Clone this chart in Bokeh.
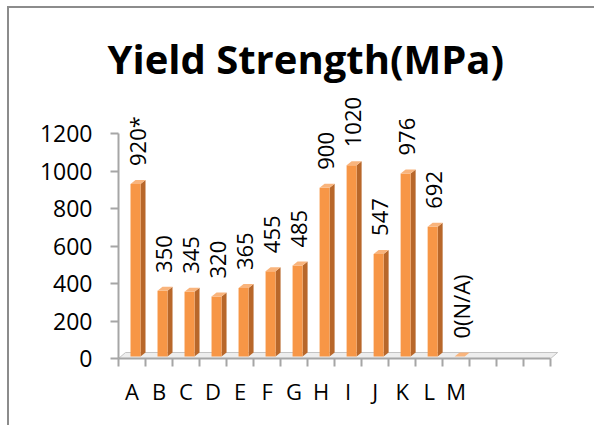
import numpy as np
from bokeh.plotting import figure
from bokeh.models import FixedTicker, Range1d, ColumnDataSource, Title
from bokeh.embed import file_html
from bokeh.resources import INLINE
from bokeh.core.properties import value

# ---- data ----
categories = ["A", "B", "C", "D", "E", "F", "G", "H", "I", "J", "K", "L", "M"]
strengths = [920, 350, 345, 320, 365, 455, 485, 900, 1020, 547, 976, 692, 0]
value_labels = ["920*", "350", "345", "320", "365", "455", "485", "900", "1020",
                "547", "976", "692", "0(N/A)"]
y_ticks = [0, 200, 400, 600, 800, 1000, 1200]
n_slots = 16
title_text = "Yield Strength(MPa)"

# ---- geometry helpers ----
PX_X = 27.0          # px per category slot
PX_Y = 0.1875        # px per MPa
FONT = "Open Sans"
GRAY = "#a6a6a6"
OX, OY = 9, 8        # canvas offset produced by the page border

p = figure(width=596 - OX, height=427 - OY, output_backend="svg",
           toolbar_location=None, title=None,
           x_range=Range1d(0, 16.4), y_range=Range1d(0, (358 - 90) / PX_Y),
           min_border_left=118 - OX, min_border_right=35,
           min_border_top=90 - OY, min_border_bottom=69,
           background_fill_color="white", border_fill_color="white",
           outline_line_color=None)
p.styles = {"margin-left": "7px", "margin-top": "6px",
            "border-left": "2px solid #8c8c8c", "border-top": "2px solid #8c8c8c"}
p.grid.visible = False

# floor (3D base)
d = 7 / PX_X
h = 6 / PX_Y
p.patch([0, n_slots, n_slots + d, d], [0, 0, h, h],
        fill_color="#eeeeee", line_color="#c4c4c4", line_width=1)

# bars with pseudo-3D faces
idx = np.arange(len(categories))
vals = np.array(strengths, dtype=float)
base = 11
face_l = idx + 12 / PX_X
face_r = idx + 22 / PX_X
sd = 5 / PX_X
sh = 4 / PX_Y

side_xs = [[r, r + sd, r + sd, r] for r in face_r]
side_ys = [[base, base + sh, v + base + sh, v + base] for v in vals]
top_xs = [[l, r, r + sd, l + sd] for l, r in zip(face_l, face_r)]
top_ys = [[v + base, v + base, v + base + sh, v + base + sh] for v in vals]

p.patches(side_xs, side_ys, fill_color="#b8672a", line_color=None)
p.quad(left=face_l, right=face_r, bottom=base, top=vals + base,
       fill_color="#f79646", line_color=None)
p.patches(top_xs, top_ys, fill_color="#f9b47c", line_color=None)

# value labels (rotated)
src = ColumnDataSource(dict(x=idx + 0.69, y=vals, t=value_labels))
p.text(x="x", y="y", text="t", source=src, angle=np.pi / 2,
       text_align="left", text_baseline="middle", y_offset=-20,
       text_font=value(FONT), text_font_size="22px", text_color="black")

# x axis: labels at slot centres, minor ticks at slot boundaries
xa = p.xaxis[0]
centers = [i + 0.5 for i in range(len(categories))]
xa.ticker = FixedTicker(ticks=centers, minor_ticks=list(range(n_slots + 1)))
xa.major_label_overrides = {c: cat for c, cat in zip(centers, categories)}
xa.bounds = (0, n_slots)
xa.major_tick_out = 0
xa.major_tick_in = 0
xa.minor_tick_out = 8
xa.minor_tick_in = 0
xa.minor_tick_line_color = GRAY
xa.minor_tick_line_width = 2
xa.axis_line_color = GRAY
xa.axis_line_width = 2
xa.major_label_standoff = 9
xa.major_label_text_font = FONT
xa.major_label_text_font_size = "22px"
xa.major_label_text_color = "black"

# y axis
ya = p.yaxis[0]
ya.ticker = FixedTicker(ticks=y_ticks, minor_ticks=[])
ya.bounds = (0, 1200)
ya.major_tick_out = 8
ya.major_tick_in = 0
ya.major_tick_line_color = GRAY
ya.major_tick_line_width = 2
ya.minor_tick_out = 0
ya.minor_tick_in = 0
ya.axis_line_color = GRAY
ya.axis_line_width = 2
ya.major_label_standoff = 18
ya.major_label_text_font = FONT
ya.major_label_text_font_size = "23px"
ya.major_label_text_color = "black"

# title
p.add_layout(Title(text=title_text, align="left", offset=-11,
                   text_font=FONT, text_font_size="40px",
                   text_font_style="bold", text_color="black",
                   vertical_align="bottom", standoff=10), "above")

open("out.html", "w").write(file_html(p, INLINE))
